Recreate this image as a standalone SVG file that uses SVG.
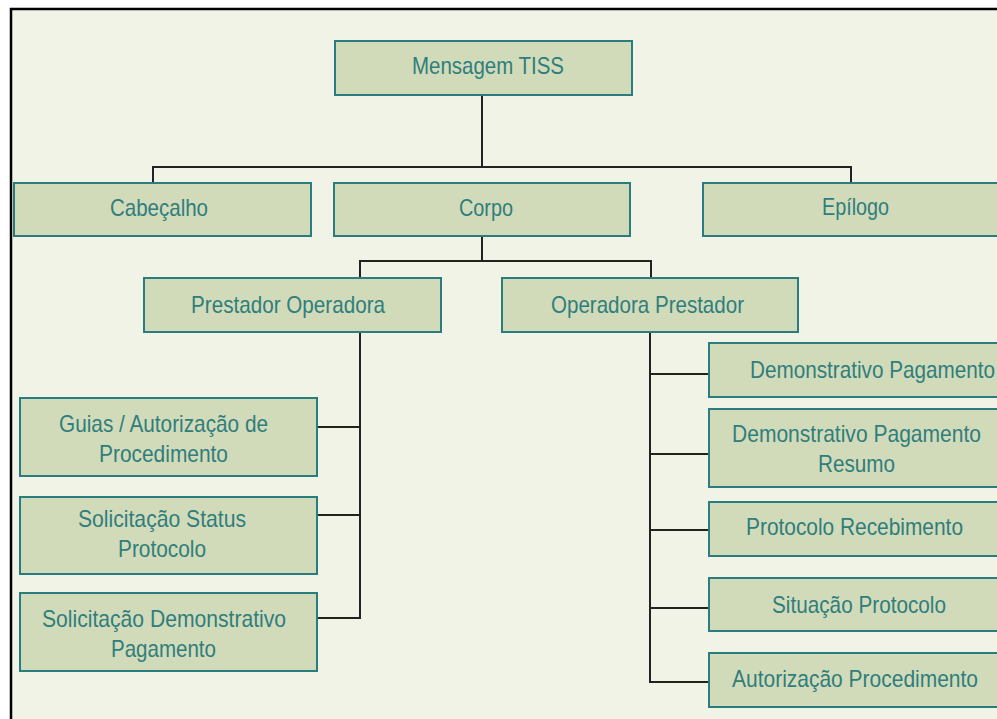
<svg xmlns="http://www.w3.org/2000/svg" width="997" height="719" viewBox="0 0 997 719">
<style>
.box{fill:#D2DBB9;stroke:#2A7D7E;stroke-width:2}
.lbl{font-family:"Liberation Sans",Arial,sans-serif;font-size:24px;fill:#2F7E7D}
.con{fill:none;stroke:#222;stroke-width:2}
</style>
<rect x="0" y="0" width="997" height="719" fill="#FFFFFF"/>
<rect x="11" y="9" width="986" height="710" fill="#F2F3E7"/>
<path d="M11 719 V9 H997" fill="none" stroke="#000" stroke-width="2.5"/>
<g id="connectors">
<path class="con" d="M482 96 V167"/>
<path class="con" d="M153 183 V167 H851 V183"/>
<path class="con" d="M482 236 V261"/>
<path class="con" d="M360 278 V261 H651 V278"/>
<path class="con" d="M360 332 V619"/>
<path class="con" d="M318 427 H360"/>
<path class="con" d="M318 515 H360"/>
<path class="con" d="M318 618 H360"/>
<path class="con" d="M650 332 V682 H709"/>
<path class="con" d="M650 374 H709"/>
<path class="con" d="M650 454 H709"/>
<path class="con" d="M650 530 H709"/>
<path class="con" d="M650 608 H709"/>
</g>
<g id="mensagem">
<rect class="box" x="335" y="41" width="297" height="54"/>
<text class="lbl" x="412" y="74" textLength="152" lengthAdjust="spacingAndGlyphs">Mensagem TISS</text>
</g>
<g id="cabecalho">
<rect class="box" x="14" y="183" width="297" height="53"/>
<text class="lbl" x="110" y="216" textLength="98" lengthAdjust="spacingAndGlyphs">Cabeçalho</text>
</g>
<g id="corpo">
<rect class="box" x="334" y="183" width="296" height="53"/>
<text class="lbl" x="459" y="216" textLength="54" lengthAdjust="spacingAndGlyphs">Corpo</text>
</g>
<g id="epilogo">
<rect class="box" x="703" y="183" width="310" height="53"/>
<text class="lbl" x="822" y="215" textLength="67" lengthAdjust="spacingAndGlyphs">Epílogo</text>
</g>
<g id="prestador-operadora">
<rect class="box" x="144" y="278" width="297" height="54"/>
<text class="lbl" x="191" y="313" textLength="194" lengthAdjust="spacingAndGlyphs">Prestador Operadora</text>
</g>
<g id="operadora-prestador">
<rect class="box" x="502" y="278" width="296" height="54"/>
<text class="lbl" x="551" y="313" textLength="193" lengthAdjust="spacingAndGlyphs">Operadora Prestador</text>
</g>
<g id="guias">
<rect class="box" x="20" y="398" width="297" height="78"/>
<text class="lbl" x="59" y="432" textLength="209" lengthAdjust="spacingAndGlyphs">Guias / Autorização de</text>
<text class="lbl" x="99" y="462" textLength="129" lengthAdjust="spacingAndGlyphs">Procedimento</text>
</g>
<g id="solicitacao-status">
<rect class="box" x="20" y="497" width="297" height="77"/>
<text class="lbl" x="78" y="527" textLength="168" lengthAdjust="spacingAndGlyphs">Solicitação Status</text>
<text class="lbl" x="118" y="557" textLength="88" lengthAdjust="spacingAndGlyphs">Protocolo</text>
</g>
<g id="solicitacao-demonstrativo">
<rect class="box" x="20" y="593" width="297" height="78"/>
<text class="lbl" x="42" y="627" textLength="244" lengthAdjust="spacingAndGlyphs">Solicitação Demonstrativo</text>
<text class="lbl" x="111" y="657" textLength="105" lengthAdjust="spacingAndGlyphs">Pagamento</text>
</g>
<g id="demonstrativo-pagamento">
<rect class="box" x="709" y="343" width="310" height="54"/>
<text class="lbl" x="750" y="378" textLength="245" lengthAdjust="spacingAndGlyphs">Demonstrativo Pagamento</text>
</g>
<g id="demonstrativo-pagamento-resumo">
<rect class="box" x="709" y="409" width="310" height="78"/>
<text class="lbl" x="732" y="442" textLength="249" lengthAdjust="spacingAndGlyphs">Demonstrativo Pagamento</text>
<text class="lbl" x="818" y="472" textLength="77" lengthAdjust="spacingAndGlyphs">Resumo</text>
</g>
<g id="protocolo-recebimento">
<rect class="box" x="709" y="502" width="310" height="54"/>
<text class="lbl" x="746" y="535" textLength="217" lengthAdjust="spacingAndGlyphs">Protocolo Recebimento</text>
</g>
<g id="situacao-protocolo">
<rect class="box" x="709" y="578" width="310" height="53"/>
<text class="lbl" x="772" y="613" textLength="174" lengthAdjust="spacingAndGlyphs">Situação Protocolo</text>
</g>
<g id="autorizacao-procedimento">
<rect class="box" x="709" y="653" width="310" height="54"/>
<text class="lbl" x="732" y="687" textLength="246" lengthAdjust="spacingAndGlyphs">Autorização Procedimento</text>
</g>
</svg>
